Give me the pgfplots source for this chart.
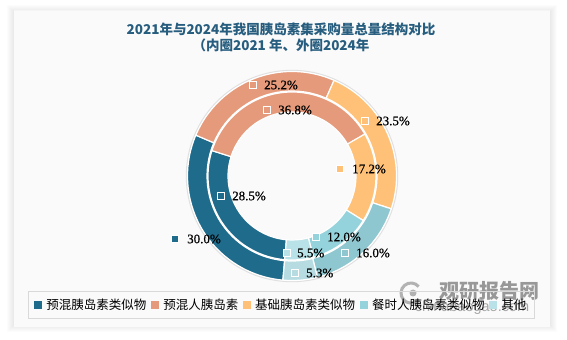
\documentclass[border=0pt]{standalone}
\usepackage{pgfplots}
\pgfplotsset{compat=1.18}
\usepackage{fontspec}
\setmainfont{Liberation Serif}
\newfontfamily\cjk{Noto Sans CJK SC}
\newfontfamily\lblfont[FakeBold=0.6]{Liberation Serif}
\newfontfamily\wmfont{Liberation Sans}

\definecolor{cA}{HTML}{1E6B8C}
\definecolor{cB}{HTML}{E59A7B}
\definecolor{cC}{HTML}{FEC177}
\definecolor{cDo}{HTML}{8FC7D0}
\definecolor{cDi}{HTML}{95D3DC}
\definecolor{cEo}{HTML}{B6DCE2}
\definecolor{cEi}{HTML}{B8E2E8}
\definecolor{titlec}{HTML}{275D7E}

% donut data (percent), order: 预混胰岛素类似物, 预混人胰岛素, 基础胰岛素类似物, 餐时人胰岛素类似物, 其他
\def\outerdata{30.0/cA,25.2/cB,23.5/cC,16.0/cDo,5.3/cEo}  % 2024
\def\innerdata{28.5/cA,36.8/cB,17.2/cC,12.0/cDi,5.5/cEi}  % 2021

\newcommand\lbl[5]{% x y color textx text  (pixel coords, y from top)
  \node[draw=white, fill=#3, line width=0.9bp, minimum size=6.5bp, inner sep=0pt] at (axis cs:#1,{340-#2}) {};
  \node[anchor=west, inner sep=0pt, font=\lblfont\fontsize{13bp}{14bp}\selectfont] at (axis cs:#4,{340-#2}) {#5};
}
\newcommand\legsq[1]{\addlegendimage{legend image code/.code={\fill[#1] (0bp,-3.5bp) rectangle (7bp,3.5bp);}}}

\begin{document}
\begin{tikzpicture}
\begin{axis}[
  scale only axis, width=567bp, height=340bp,
  xmin=0, xmax=567, ymin=0, ymax=340,
  hide axis, clip=false,
  legend columns=5,
  legend cell align=left,
  legend style={at={(axis cs:281.5,35)}, anchor=center, draw=black!15, fill=none,
    inner xsep=5.5bp, inner ysep=6.5bp,
    font=\cjk\fontsize{12.5bp}{14bp}\selectfont,
    nodes={inner xsep=2.5bp, inner ysep=1bp},
    /tikz/every odd column/.append style={column sep=2.5bp},
    /tikz/every even column/.append style={column sep=2bp}},
]
% background and card
\fill[white] (axis cs:0,0) rectangle (axis cs:567,340);
\pgfplotsextra{
  \foreach \i in {1,...,7}{
    \fill[black, opacity=0.012] (axis cs:{14-\i},{13-\i+2}) rectangle (axis cs:{550+\i},{329+\i-1});
  }
}
\fill[black!4] (axis cs:14,13) rectangle (axis cs:550,329.5);
\fill[white!98!black] (axis cs:14,13) rectangle (axis cs:550,328.5);

% watermark
\node[font=\cjk\bfseries\fontsize{20bp}{21bp}\selectfont, text=black!50, opacity=0.8] at (axis cs:489,49) {观研报告网};
\node[font=\wmfont\fontsize{14.5bp}{15bp}\selectfont, text=black!45, opacity=0.75] at (axis cs:472,32) {chinabaogao.com};
\draw[black!45, opacity=0.65, line width=3bp] (axis cs:411,47) ++(40:10bp) arc[start angle=40, end angle=320, radius=10bp];
\fill[black!45, opacity=0.65] (axis cs:413,47) circle[radius=3.5bp];

% title
\node[font=\cjk\bfseries\fontsize{13.5bp}{16bp}\selectfont, text=titlec] at (axis cs:281,311) {2021年与2024年我国胰岛素集采购量总量结构对比};
\node[font=\cjk\bfseries\fontsize{13.5bp}{16bp}\selectfont, text=titlec] at (axis cs:281,295) {（内圈2021 年、外圈2024年};

% donut
\draw[black!12, line width=1.2bp] (axis cs:292,164) circle[radius=105.6bp];
\pgfplotsextra{
  \gdef\curang{265}
  \foreach \v/\c in \outerdata {
    \pgfmathsetmacro\nextang{\curang-3.6*\v}
    \fill[\c, draw=white, line width=1.2bp, line join=round]
      ([shift={(\curang:104.5bp)}]axis cs:292,164) arc[start angle=\curang, end angle=\nextang, radius=104.5bp]
      -- ([shift={(\nextang:85bp)}]axis cs:292,164) arc[start angle=\nextang, end angle=\curang, radius=85bp] -- cycle;
    \global\let\curang\nextang
  }
  \gdef\curang{265}
  \foreach \v/\c in \innerdata {
    \pgfmathsetmacro\nextang{\curang-3.6*\v}
    \fill[\c, draw=white, line width=1.2bp, line join=round]
      ([shift={(\curang:84bp)}]axis cs:292,164) arc[start angle=\curang, end angle=\nextang, radius=84bp]
      -- ([shift={(\nextang:64bp)}]axis cs:292,164) arc[start angle=\nextang, end angle=\curang, radius=64bp] -- cycle;
    \global\let\curang\nextang
  }
}

% data labels
\lbl{253}{85}{cB}{264}{25.2\%}
\lbl{267}{110}{cB}{278}{36.8\%}
\lbl{365}{121}{cC}{376}{23.5\%}
\lbl{340}{169}{cC}{352}{17.2\%}
\lbl{221}{196}{cA}{232}{28.5\%}
\lbl{175}{239}{cA}{187}{30.0\%}
\lbl{316}{237}{cDi}{327}{12.0\%}
\lbl{287}{253}{cEi}{297}{5.5\%}
\lbl{345}{253}{cDo}{356}{16.0\%}
\lbl{295}{273}{cEo}{306}{5.3\%}

% legend
\legsq{cA}\addlegendentry{预混胰岛素类似物}
\legsq{cB}\addlegendentry{预混人胰岛素}
\legsq{cC}\addlegendentry{基础胰岛素类似物}
\legsq{cDi}\addlegendentry{餐时人胰岛素类似物}
\legsq{cEi}\addlegendentry{其他}
\end{axis}
\end{tikzpicture}
\end{document}
